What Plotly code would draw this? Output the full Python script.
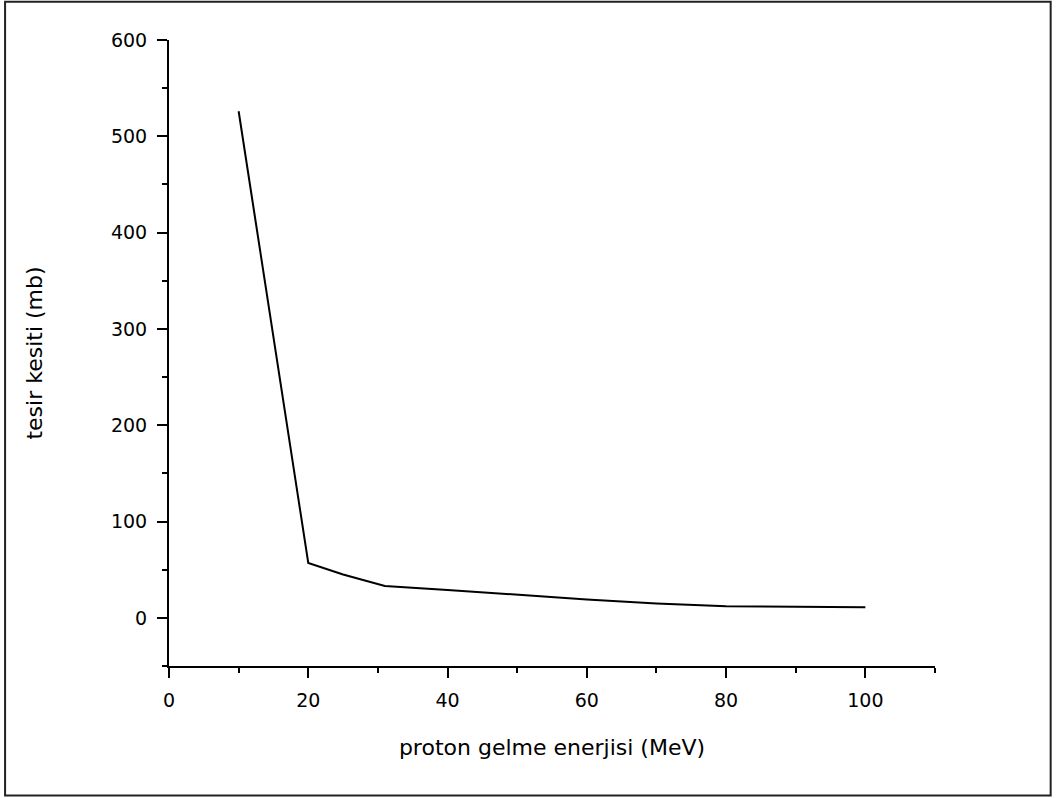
import plotly.graph_objects as go

# cross section vs proton energy
energy = [10, 20, 25, 31, 40, 50, 60, 70, 80, 90, 100]
cross_section = [526, 57, 45, 33, 29, 24, 19, 15, 12, 11.5, 11]

x_ticks = [0, 20, 40, 60, 80, 100]
y_ticks = [0, 100, 200, 300, 400, 500, 600]

font_name = "DejaVu Sans"

fig = go.Figure()

fig.add_trace(
    go.Scatter(
        x=energy,
        y=cross_section,
        mode="lines",
        line=dict(color="black", width=2),
        showlegend=False,
    )
)

axis_common = dict(
    showline=True,
    linecolor="black",
    linewidth=2,
    showgrid=False,
    zeroline=False,
    ticks="outside",
    ticklen=10,
    tickwidth=2,
    tickcolor="black",
    ticklabelstandoff=6,
    tickfont=dict(family=font_name, size=19, color="black"),
)

fig.update_layout(
    width=1059,
    height=798,
    paper_bgcolor="white",
    plot_bgcolor="white",
    margin=dict(l=169, r=124, t=40, b=132),
    xaxis=dict(
        range=[0, 110],
        tickvals=x_ticks,
        minor=dict(dtick=10, ticks="outside", ticklen=5, tickwidth=2, tickcolor="black"),
        title=dict(text="proton gelme enerjisi (MeV)", standoff=30,
                   font=dict(family=font_name, size=22, color="black")),
        **axis_common,
    ),
    yaxis=dict(
        range=[-50, 600],
        tickvals=y_ticks,
        minor=dict(dtick=50, ticks="outside", ticklen=5, tickwidth=2, tickcolor="black"),
        title=dict(text="tesir kesiti (mb)", standoff=62,
                   font=dict(family=font_name, size=22, color="black")),
        **axis_common,
    ),
    shapes=[
        # frame round the whole picture
        dict(type="rect", xref="paper", yref="paper",
             x0=-0.214, x1=1.151, y0=-0.207, y1=1.061,
             line=dict(color="#222222", width=2)),
    ],
)

# page margin off so the figure sits at the window corner
fig.write_html("out.html",
               config={"displayModeBar": False},
               post_script="document.body.style.margin='0';document.body.style.overflow='hidden';")
